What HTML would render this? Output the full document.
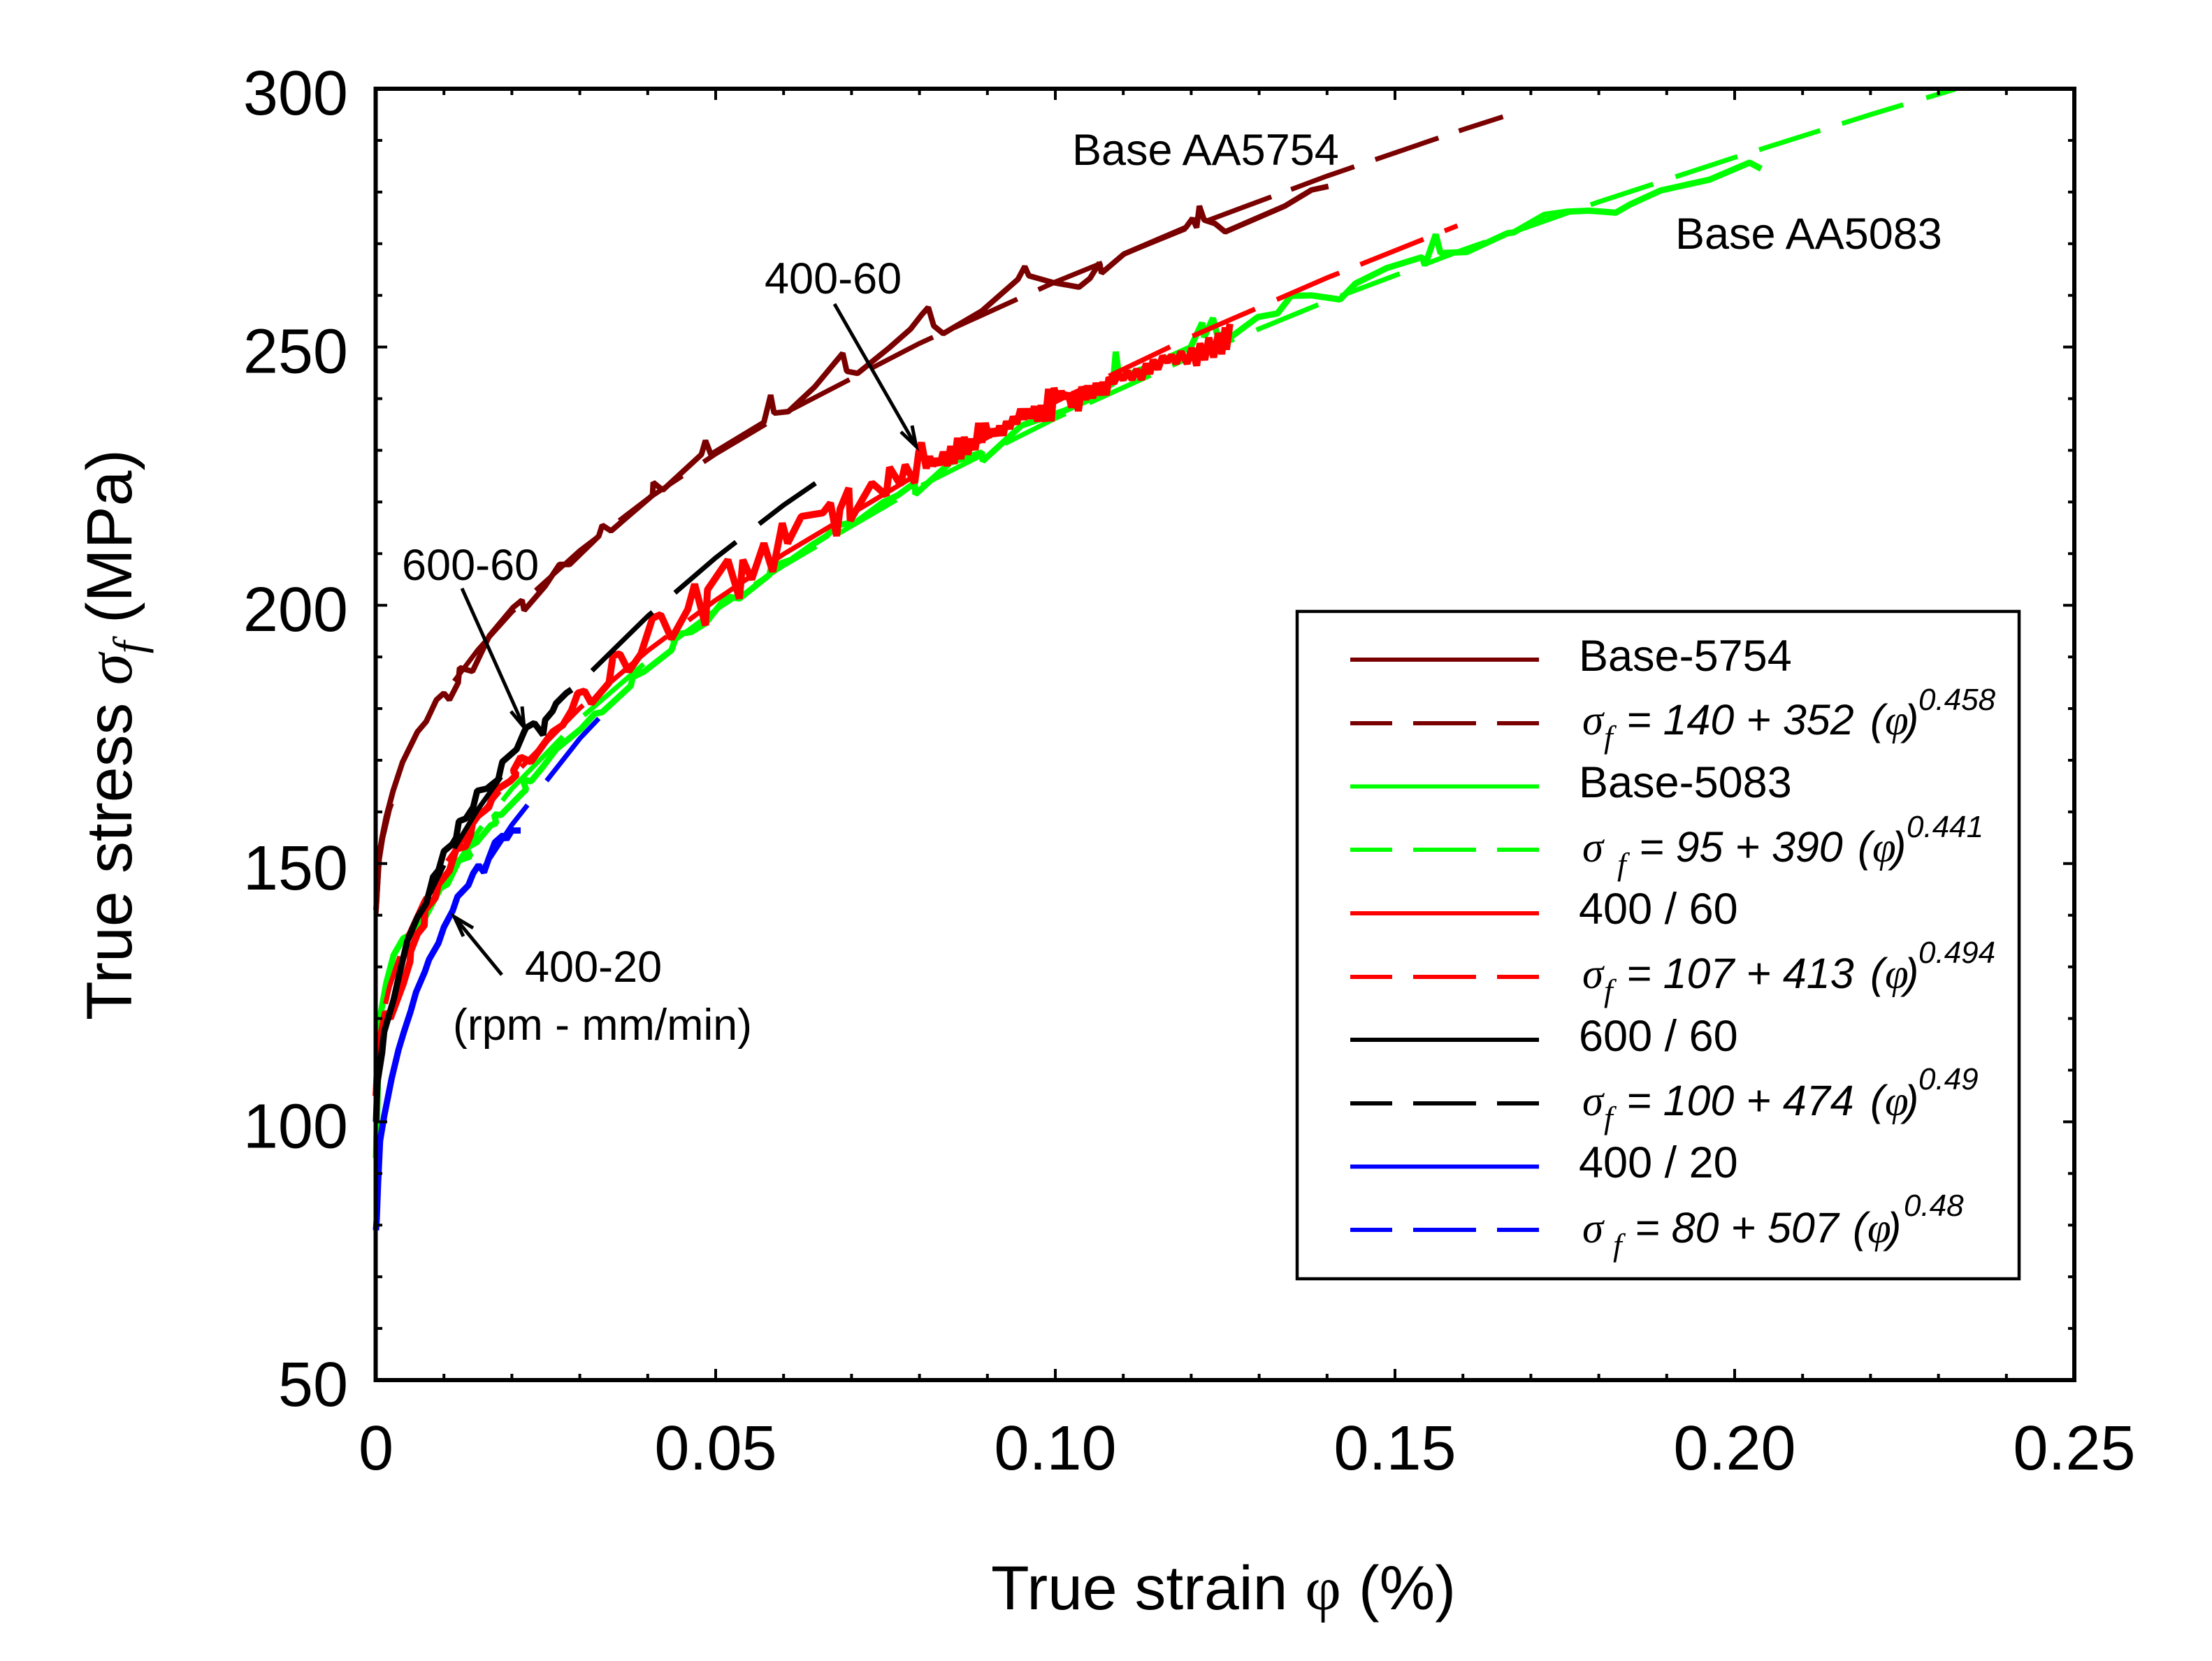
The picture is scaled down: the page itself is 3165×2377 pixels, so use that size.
<!DOCTYPE html>
<html lang="en">
<head>
<meta charset="utf-8">
<title>True stress vs true strain</title>
<style>
html,body{margin:0;padding:0;background:#fff;}
svg{display:block;}
text{font-family:"Liberation Sans",sans-serif;fill:#000;}
.ann{font-size:63px;}
.it{font-style:italic;font-size:61px;}
.ser{font-family:"Liberation Serif",serif;}
.exp{font-size:44px;font-style:italic;}
</style>
</head>
<body>
<svg id="chart" xmlns="http://www.w3.org/2000/svg" width="3165" height="2377" viewBox="0 0 3165 2377">
  <rect x="0" y="0" width="3165" height="2377" fill="#fff"/>
  <g id="marks"></g>
  <rect x="537.5" y="127" width="2430.5" height="1848" fill="none" stroke="#000" stroke-width="6"/>
  <g id="ticks"></g>

  <text x="1418" y="2303" font-size="89.5">True strain <tspan class="ser">φ</tspan> (%)</text>
  <text transform="translate(188,1460) rotate(-90)" font-size="91.5">True stress <tspan class="ser" font-style="italic">σ</tspan><tspan class="ser" font-style="italic" font-size="64" dy="18">f</tspan><tspan dy="-18"> (MPa)</tspan></text>

  <text class="ann" x="1534" y="236">Base AA5754</text>
  <text class="ann" x="2397" y="356">Base AA5083</text>
  <text class="ann" x="1094" y="420">400-60</text>
  <text class="ann" x="575" y="830">600-60</text>
  <text class="ann" x="751" y="1405">400-20</text>
  <text class="ann" x="648" y="1488" textLength="428" lengthAdjust="spacingAndGlyphs">(rpm - mm/min)</text>

  <g stroke="#000" stroke-width="5" fill="none">
    <line x1="661" y1="842" x2="750" y2="1041"/><polyline points="731,1018 750,1041 747,1011"/>
  </g>
  <g stroke="#000" stroke-width="5" fill="none">
    <line x1="1194" y1="435" x2="1311" y2="639"/><polyline points="1289,618 1311,639 1305,609"/>
  </g>
  <g stroke="#000" stroke-width="5" fill="none">
    <line x1="718" y1="1395" x2="650" y2="1312"/><polyline points="677,1328 650,1312 663,1340"/>
  </g>

  <g>
    <rect x="1856" y="875" width="1033" height="955" fill="#fff" stroke="#000" stroke-width="4.5"/>

    <line x1="1932" x2="2202" y1="944" y2="944" stroke="#7a0000" stroke-width="6"/>
    <text class="ann" x="2259" y="960">Base-5754</text>

    <line x1="1932" x2="2202" y1="1035" y2="1035" stroke="#7a0000" stroke-width="6" stroke-dasharray="60 30 90 30 60"/>
    <g>
      <text class="ser it" x="2264" y="1051">σ</text><text class="it ser" style="font-size:46px" x="2295" y="1070">f</text>
      <text class="it" x="2327" y="1051">= 140 + 352</text><text class="it" x="2676" y="1051">(</text><text class="ser it" x="2697" y="1051">φ</text><text class="it" x="2725" y="1051">)</text>
      <text class="exp" x="2745" y="1016">0.458</text>
    </g>

    <line x1="1932" x2="2202" y1="1125.5" y2="1125.5" stroke="#00ff00" stroke-width="6"/>
    <text class="ann" x="2259" y="1141">Base-5083</text>

    <line x1="1932" x2="2202" y1="1216" y2="1216" stroke="#00ff00" stroke-width="6" stroke-dasharray="60 30 90 30 60"/>
    <g>
      <text class="ser it" x="2264" y="1233">σ</text><text class="it ser" style="font-size:46px" x="2314" y="1252">f</text>
      <text class="it" x="2345" y="1233">= 95 + 390</text><text class="it" x="2658" y="1233">(</text><text class="ser it" x="2679" y="1233">φ</text><text class="it" x="2707" y="1233">)</text>
      <text class="exp" x="2728" y="1198">0.441</text>
    </g>

    <line x1="1932" x2="2202" y1="1307" y2="1307" stroke="#ff0000" stroke-width="6"/>
    <text class="ann" x="2259" y="1322">400 / 60</text>

    <line x1="1932" x2="2202" y1="1398" y2="1398" stroke="#ff0000" stroke-width="6" stroke-dasharray="60 30 90 30 60"/>
    <g>
      <text class="ser it" x="2264" y="1414">σ</text><text class="it ser" style="font-size:46px" x="2295" y="1433">f</text>
      <text class="it" x="2327" y="1414">= 107 + 413</text><text class="it" x="2676" y="1414">(</text><text class="ser it" x="2697" y="1414">φ</text><text class="it" x="2725" y="1414">)</text>
      <text class="exp" x="2745" y="1378">0.494</text>
    </g>

    <line x1="1932" x2="2202" y1="1488" y2="1488" stroke="#000" stroke-width="6"/>
    <text class="ann" x="2259" y="1504">600 / 60</text>

    <line x1="1932" x2="2202" y1="1579" y2="1579" stroke="#000" stroke-width="6" stroke-dasharray="60 30 90 30 60"/>
    <g>
      <text class="ser it" x="2264" y="1596">σ</text><text class="it ser" style="font-size:46px" x="2295" y="1615">f</text>
      <text class="it" x="2327" y="1596">= 100 + 474</text><text class="it" x="2676" y="1596">(</text><text class="ser it" x="2697" y="1596">φ</text><text class="it" x="2725" y="1596">)</text>
      <text class="exp" x="2745" y="1559">0.49</text>
    </g>

    <line x1="1932" x2="2202" y1="1669.5" y2="1669.5" stroke="#0000ff" stroke-width="6"/>
    <text class="ann" x="2259" y="1685">400 / 20</text>

    <line x1="1932" x2="2202" y1="1760" y2="1760" stroke="#0000ff" stroke-width="6" stroke-dasharray="60 30 90 30 60"/>
    <g>
      <text class="ser it" x="2264" y="1778">σ</text><text class="it ser" style="font-size:46px" x="2308" y="1797">f</text>
      <text class="it" x="2339" y="1778">= 80 + 507</text><text class="it" x="2651" y="1778">(</text><text class="ser it" x="2672" y="1778">φ</text><text class="it" x="2700" y="1778">)</text>
      <text class="exp" x="2724" y="1740">0.48</text>
    </g>
  </g>
</svg>

<script>
/* ---------- axis tick labels ---------- */
const xTickValues = [0, 0.05, 0.10, 0.15, 0.20, 0.25];
const xTickLabels = ["0", "0.05", "0.10", "0.15", "0.20", "0.25"];
const yTickValues = [50, 100, 150, 200, 250, 300];
const yTickLabels = ["50", "100", "150", "200", "250", "300"];

/* ---------- measured curves (strain, MPa) ---------- */
const base5754Strain = [0,.0001,.0003,.0005,.0009,.0015,.0025,.0039,.0061,.0074,.0089,.0100,.0108,.0121,.0123,.0142,.0167,.0202,.0215,.0218,.0249,.0270,.0285,.0328,.0333,.0346,.0407,.0408,.0422,.0479,.0485,.0493,.0571,.0581,.0586,.0607,.0646,.0675,.0687,.0693,.0709,.0756,.0787,.0803,.0813,.0821,.0835,.0892,.0945,.0955,.0961,.0996,.1035,.1051,.1065,.1068,.1101,.1192,.1202,.1208,.1212,.1219,.1235,.1250,.1338,.1377,.1402];
const base5754Stress = [141,143,148,152,155,159,164,169.6,175.5,177.5,181.7,183,181.7,185,187.9,187.2,194.1,199.6,201,199,203.7,207.9,207.9,213.4,215.5,214.4,221.3,223.8,222.3,229.2,231.9,229.2,235.4,240.7,237.2,237.5,242.3,246.9,248.8,245.3,244.9,249.9,253.5,256.2,257.7,254.1,252.6,257,263.1,265.6,263.8,262.5,261.6,263.3,266.3,264.3,268,273.1,274.9,273.1,277.3,274.6,273.9,272.3,277.3,280.4,281.1];

const base5083Strain = [0,.0002,.0004,.0007,.0015,.0026,.0040,.0061,.0077,.0094,.0105,.0122,.0139,.0133,.0148,.0169,.0177,.0174,.0184,.0215,.0221,.0216,.0228,.0245,.0265,.0302,.0322,.0333,.0375,.0378,.0395,.0435,.0443,.0464,.0485,.0516,.0535,.0579,.0582,.0611,.0642,.0663,.0679,.0707,.0746,.0768,.0793,.0794,.0845,.0892,.0893,.0950,.1014,.1051,.1085,.1089,.1094,.1140,.1180,.1199,.1216,.1219,.1232,.1238,.1258,.1298,.1327,.1347,.1377,.1419,.1442,.1488,.1540,.1544,.1560,.1567,.1606,.1665,.1675,.1720,.1753,.1786,.1825,.1846,.1891,.1963,.2022,.2039];
const base5083Stress = [93,103,116.6,121,126.8,132.3,135.5,137,141.2,145.2,146,150.6,151.4,153,154.1,157.4,157.8,159.5,159.4,163.6,164.3,166.3,165.9,168.6,172.1,176.1,179,179.3,184.4,186.1,187.2,191.3,194.4,194.8,196.5,201.7,201.3,205.9,207.5,208.8,211.7,213.4,215.5,216.1,219.9,221.3,223.7,221.5,227.6,229.6,227.9,234.8,237.7,239.9,243,249.1,244.1,246.3,248.8,249.9,254.7,251.9,255.6,252.5,251.9,255.8,256.5,259.9,260,259.2,262.3,265.3,267.4,265.8,271.8,268.2,268.4,272,272.2,275.6,276.2,276.4,276,277.6,280.3,282.4,285.7,284.5];

const run40060Strain = [0,.0002,.0006,.0014,.0021,.0040,.0050,.0051,.0061,.0071,.0072,.0087,.0092,.0108,.0118,.0132,.0139,.0143,.0166,.0175,.0197,.0207,.0202,.0213,.0228,.0260,.0275,.0288,.0297,.0307,.0317,.0343,.0349,.0359,.0372,.0390,.0407,.0419,.0435,.0459,.0469,.0485,.0488,.0518,.0535,.0540,.0553,.0571,.0584,.0598,.0606,.0626,.0658,.0669,.0678,.0683,.0696,.0698,.0730,.0751,.0756,.0772,.0779,.0793,.0799,.0803,.0810,.0815,.0820,.0825,.0830,.0835,.0841,.0846,.0851,.0856,.0861,.0866,.0871,.0877,.0882,.0887,.0892,.0897,.0902,.0907,.0913,.0918,.0923,.0928,.0933,.0938,.0943,.0949,.0954,.0959,.0964,.0969,.0974,.0979,.0985,.0990,.0994,.0998,.1003,.1009,.1014,.1019,.1024,.1029,.1034,.1039,.1045,.1050,.1055,.1060,.1065,.1070,.1075,.1079,.1086,.1093,.1100,.1106,.1113,.1120,.1127,.1134,.1139,.1144,.1151,.1158,.1165,.1171,.1178,.1185,.1194,.1201,.1208,.1213,.1220,.1226,.1233,.1240,.1245,.1250,.1252,.1257];
const run40060Stress = [105,110,116,121.3,120,126.7,131,133,136.4,138,141,143.3,146,148.6,152.8,153.3,155.5,158.5,160.9,164.1,165.9,167.2,167.9,170.6,169.7,175.5,176.8,179.7,183,183.4,181,185,190.3,190.6,187.2,190.6,197.5,198.2,193.5,199.2,204.1,196.1,203,208.8,201.3,208.8,205,212,206.5,215.9,212,217.2,217.9,219.8,213.4,218.6,222.7,216.4,223.7,221.3,226.7,223.3,227.2,223.7,229.7,231.5,226.5,228.8,227,228.3,227.2,229.7,227,230.8,227.4,232.4,228.3,232.6,229.2,232.2,230.1,235.3,231.5,235.3,232.6,234,232.9,234.7,232.9,235.6,234.2,236.5,235.1,238,236,238,236.2,238.5,235.6,238.7,235.6,241.9,235.6,242.1,239.6,241.4,240.1,241,238.3,241.4,237.6,242.3,239.8,242.5,240.1,243,240.7,243.2,240.7,244.1,243,244.8,243.7,245.3,243.7,245.7,243.7,246.8,244.8,247.5,245.7,248.2,247.1,248.4,246.8,249.1,246.8,249.8,246.4,250.7,247.5,251.8,248,252.7,248.6,253.8,249.5,254.5];

const run60060Strain = [0,.0002,.0009,.0012,.0020,.0026,.0033,.0046,.0061,.0074,.0081,.0084,.0092,.0100,.0112,.0118,.0122,.0132,.0143,.0149,.0163,.0180,.0184,.0186,.0207,.0218,.0221,.0233,.0246,.0249,.0260,.0265,.0280,.0288];
const run60060Stress = [100,107.5,113.3,117.4,121,123.7,127.8,135,139.6,142.3,145.8,147.4,148.7,152.4,153.7,155,158.2,158.7,160.9,164.1,164.5,166.3,168.6,169.7,172.1,175.5,176.3,177.2,174.9,177.8,179.5,181,183,183.7];

const run40020Strain = [0,.0001,.0003,.0006,.0012,.0023,.0033,.0041,.0051,.0059,.0072,.0078,.0092,.0100,.0113,.0120,.0136,.0143,.0151,.0159,.0166,.0175,.0187,.0192,.0200,.0213];
const run40020Stress = [79,81,88,96.3,101.1,108.4,113.9,117.4,121.4,125.1,129.1,131.4,134.6,137.7,140.9,143.6,145.8,148.1,149.7,148.3,151,154.1,155.5,154.7,156.4,156.4];

/* ---------- fitted curves, shared strain grid ---------- */
const fitStrain = [0,.0005,.001,.002,.004,.007,.01,.015,.02,.03,.04,.05,.06,.08,.10,.12,.14,.16,.18,.20,.22,.24];
const fit5754Stress = [140,150.8,154.9,160.5,168.1,176.3,182.7,191.4,198.7,210.6,220.6,229.3,237.1,250.7,262.6,273.3,283.1,292.1,300.5];
const fit5083Stress = [95,108.7,113.5,120.2,129.2,138.7,146.2,156.2,164.5,178,189.3,199.1,207.7,223,236.2,248.1,258.9,268.8,278.1,286.7,295,302.9];
const fit40060Stress = [107,116.7,120.6,126.2,134,142.6,149.5,158.9,166.8,180.1,191.2,201,209.9,225.6,239.4,252,263.4,273.9];
const fit60060Stress = [100,111.4,116.1,122.6,131.7,141.7,149.7,160.5,169.7,185,197.9,209.2,219.4,237.4];
const fit40020Stress = [80,93.2,98.4,105.7,115.8,126.8,135.6,147.5,157.5,174.2,188.1];

/* strain spans where each dashed fit is inked */
const fit5754Spans = [[0,.0023],[.0115,.0204],[.0235,.0328],[.0358,.0451],[.0482,.0574],[.0605,.0697],[.0728,.0820],[.0851,.0944],[.0975,.1069],[.1100,.1192],[.1223,.1318],[.1347,.1440],[.1471,.1564],[.1594,.1659]];
const fit5083Spans = [[.0066,.0156],[.0186,.0275],[.0306,.0394],[.0435,.0525],[.0557,.0648],[.0681,.0766],[.0803,.0893],[.0926,.1015],[.1050,.1140],[.1172,.1263],[.1296,.1387],[.1420,.1507],[.1543,.1633],[.1666,.1757],[.1788,.1880],[.1913,.2004],[.2036,.2126],[.2158,.2248],[.2282,.2325]];
const fit40060Spans = [[0,.0005],[.0014,.0035],[.0046,.0074],[.0105,.0182],[.0214,.0305],[.0337,.0428],[.0460,.0551],[.0583,.0675],[.0706,.0798],[.0831,.0921],[.0954,.1046],[.1079,.1169],[.1202,.1294],[.1326,.1418],[.1449,.1542],[.1573,.1592]];
const fit60060Spans = [[0,.0015],[.0074,.0100],[.0115,.0184],[.0318,.0407],[.0440,.0530],[.0564,.0647]];
const fit40020Spans = [[.0160,.0223],[.0251,.0328]];

/* ---------- axis functions ---------- */
const NS = "http://www.w3.org/2000/svg";
const plotLeft = 538, plotRight = 2968, plotTop = 127, plotBottom = 1975;
const strainMin = 0, strainMax = 0.25, stressMin = 50, stressMax = 300;
function xAxis(v){ return plotLeft + (v - strainMin) / (strainMax - strainMin) * (plotRight - plotLeft); }
function yAxis(v){ return plotBottom - (v - stressMin) / (stressMax - stressMin) * (plotBottom - plotTop); }

const marks = document.getElementById("marks");
const ticks = document.getElementById("ticks");

function stressAt(strainArr, stressArr, s){
  const n = Math.min(strainArr.length, stressArr.length);
  for (let i = 1; i < n; i++){
    if (s <= strainArr[i]){
      const t = (s - strainArr[i-1]) / (strainArr[i] - strainArr[i-1]);
      return stressArr[i-1] + t * (stressArr[i] - stressArr[i-1]);
    }
  }
  return stressArr[n-1];
}

function drawSolid(strainArr, stressArr, color, width, name){
  const pts = [];
  for (let i = 0; i < strainArr.length; i++){
    pts.push(xAxis(strainArr[i]).toFixed(1) + "," + yAxis(stressArr[i]).toFixed(1));
  }
  const el = document.createElementNS(NS, "polyline");
  el.setAttribute("points", pts.join(" "));
  el.setAttribute("fill", "none");
  el.setAttribute("stroke", color);
  el.setAttribute("stroke-width", width);
  el.setAttribute("stroke-linejoin", "bevel");
  
  
  marks.appendChild(el);
}

function drawDashed(strainArr, stressArr, spans, color, width, name){
  const n = Math.min(strainArr.length, stressArr.length);
  const group = document.createElementNS(NS, "g");
  
  
  for (const span of spans){
    const pts = [[span[0], stressAt(strainArr, stressArr, span[0])]];
    for (let i = 0; i < n; i++){
      if (strainArr[i] > span[0] && strainArr[i] < span[1]) pts.push([strainArr[i], stressArr[i]]);
    }
    pts.push([span[1], stressAt(strainArr, stressArr, span[1])]);
    const el = document.createElementNS(NS, "polyline");
    el.setAttribute("points", pts.map(p => xAxis(p[0]).toFixed(1) + "," + yAxis(p[1]).toFixed(1)).join(" "));
    el.setAttribute("fill", "none");
    el.setAttribute("stroke", color);
    el.setAttribute("stroke-width", width);
    
    
    group.appendChild(el);
  }
  marks.appendChild(group);
}

drawSolid(base5754Strain, base5754Stress, "#7a0000", 8, "series-base-5754");
drawDashed(fitStrain, fit5754Stress, fit5754Spans, "#7a0000", 7, "fit-base-5754");
drawSolid(base5083Strain, base5083Stress, "#00ff00", 9, "series-base-5083");
drawDashed(fitStrain, fit5083Stress, fit5083Spans, "#00ff00", 7, "fit-base-5083");
drawSolid(run40060Strain, run40060Stress, "#ff0000", 10, "series-400-60");
drawDashed(fitStrain, fit40060Stress, fit40060Spans, "#ff0000", 7, "fit-400-60");
drawSolid(run60060Strain, run60060Stress, "#000000", 9, "series-600-60");
drawDashed(fitStrain, fit60060Stress, fit60060Spans, "#000000", 7, "fit-600-60");
drawSolid(run40020Strain, run40020Stress, "#0000ff", 9, "series-400-20");
drawDashed(fitStrain, fit40020Stress, fit40020Spans, "#0000ff", 7, "fit-400-20");

function tickLine(x1, y1, x2, y2, name){
  const el = document.createElementNS(NS, "line");
  el.setAttribute("x1", x1);
  el.setAttribute("y1", y1);
  el.setAttribute("x2", x2);
  el.setAttribute("y2", y2);
  el.setAttribute("stroke", "#000");
  el.setAttribute("stroke-width", 4);
  
  
  ticks.appendChild(el);
}

function tickText(x, y, anchor, str, name){
  const el = document.createElementNS(NS, "text");
  el.setAttribute("x", x);
  el.setAttribute("y", y);
  el.setAttribute("text-anchor", anchor);
  el.setAttribute("font-size", 90);
  el.textContent = str;
  
  
  ticks.appendChild(el);
}

const xMinorStep = 0.01, yMinorStep = 10;
for (let k = 0; k <= Math.round((strainMax - strainMin) / xMinorStep); k++){
  const v = strainMin + k * xMinorStep;
  const major = k % 5 === 0;
  const len = major ? 16 : 9;
  tickLine(xAxis(v), plotBottom, xAxis(v), plotBottom - len, major ? "x-major-tick" : "x-minor-tick");
  tickLine(xAxis(v), plotTop, xAxis(v), plotTop + len, major ? "x-major-tick-top" : "x-minor-tick-top");
}
for (let k = 0; k <= Math.round((stressMax - stressMin) / yMinorStep); k++){
  const v = stressMin + k * yMinorStep;
  const major = k % 5 === 0;
  const len = major ? 16 : 9;
  tickLine(plotLeft, yAxis(v), plotLeft + len, yAxis(v), major ? "y-major-tick" : "y-minor-tick");
  tickLine(plotRight, yAxis(v), plotRight - len, yAxis(v), major ? "y-major-tick-right" : "y-minor-tick-right");
}
xTickValues.forEach(function(v, i){
  tickText(xAxis(v), 2103, "middle", xTickLabels[i], "x-tick-label");
});
yTickValues.forEach(function(v, i){
  tickText(498, yAxis(v) + 37, "end", yTickLabels[i], "y-tick-label");
});
</script>
</body>
</html>
